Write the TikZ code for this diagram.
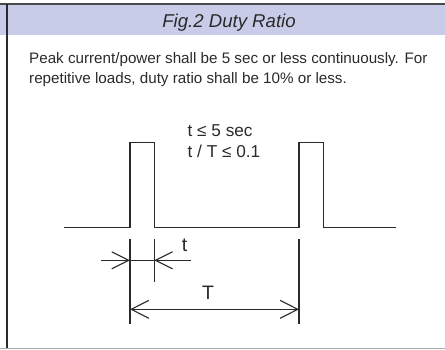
\documentclass[tikz,border=0pt]{standalone}
\usepackage{fontspec}
\setmainfont{Liberation Sans}
\usetikzlibrary{arrows.meta}
\definecolor{hdr}{HTML}{C9CCE8}
\definecolor{ink}{HTML}{2A2A2A}
\begin{document}
\begin{tikzpicture}[x=1pt,y=-1pt,
  wave/.style={draw=ink,line width=1.2pt},
  dimline/.style={draw=ink,line width=1.1pt},
  barb/.style={-{Straight Barb[length=17pt,width=17pt,line width=1.1pt]}},
  txt/.style={inner sep=0pt,anchor=base west,font=\fontsize{15.2}{18}\selectfont,text=ink},
  cond/.style={inner sep=0pt,anchor=base west,font=\fontsize{17.2}{20}\selectfont,text=ink},
  lbl/.style={inner sep=0pt,font=\fontsize{19.5}{22}\selectfont,text=ink}]
\useasboundingbox (0,0) rectangle (445,349);
% header
\fill[hdr] (0,4.5) rectangle (445,35);
\draw[color=ink!85,line width=2pt] (0,4) -- (445,4);
\draw[color=ink,line width=2pt] (6.8,4) -- (6.8,348);
\draw[color=black!33,line width=1.5pt] (0,348.3) -- (445,348.3);
\node[inner sep=0pt,anchor=base,font=\fontsize{18.6}{22}\selectfont\itshape,text=ink] (title) at (229,27.3) {Fig.2 Duty Ratio};
% paragraph
\node[txt] (p1) at (29,63.3) {Peak current/power shall be 5 sec or less continuously. For};
\node[txt] (p2) at (29,83.3) {repetitive loads, duty ratio shall be 10\% or less.};
% conditions
\node[cond] (c1) at (187.5,136.5) {t ≤ 5 sec};
\node[cond] (c2) at (187.5,157) {t / T ≤ 0.1};
% waveform
\coordinate (b0) at (64,227.7);
\coordinate (r1b) at (130,227.7);
\coordinate (r1t) at (130,142.3);
\coordinate (f1t) at (154.3,142.3);
\coordinate (f1b) at (154.3,227.7);
\coordinate (r2b) at (299,227.7);
\coordinate (r2t) at (299,142.3);
\coordinate (f2t) at (323.7,142.3);
\coordinate (f2b) at (323.7,227.7);
\coordinate (b1) at (396,227.7);
\draw[wave] (b0) -- (r1b) -- (r1t) -- (f1t) -- (f1b) -- (r2b) -- (r2t) -- (f2t) -- (f2b) -- (b1);
% extension lines
\coordinate (e1a) at (130,239.3); \coordinate (e1b) at (130,324.3);
\coordinate (e2a) at (154.3,239.3); \coordinate (e2b) at (154.3,282.3);
\coordinate (e3a) at (299,239.3); \coordinate (e3b) at (299,324.3);
\draw[dimline] (e1a) -- (e1b);
\draw[dimline] (e2a) -- (e2b);
\draw[dimline] (e3a) -- (e3b);
% t dimension
\coordinate (tl) at (101,260.3); \coordinate (ta) at (130,260.3);
\coordinate (tb) at (154.3,260.3); \coordinate (tr) at (191,260.3);
\draw[dimline,barb] (tl) -- (ta);
\draw[dimline,barb] (tr) -- (tb);
\draw[draw=ink,line width=0.8pt] (ta) -- (tb);
\node[lbl] (tlab) at (184.5,245.5) {t};
% T dimension
\coordinate (Ta) at (130,309.3); \coordinate (Tb) at (299,309.3);
\draw[dimline,{Straight Barb[length=17.7pt,width=18pt,line width=1.1pt]}-{Straight Barb[length=17.7pt,width=18pt,line width=1.1pt]}] (Ta) -- (Tb);
\node[lbl] (Tlab) at (208,292.7) {T};
\end{tikzpicture}
\end{document}
